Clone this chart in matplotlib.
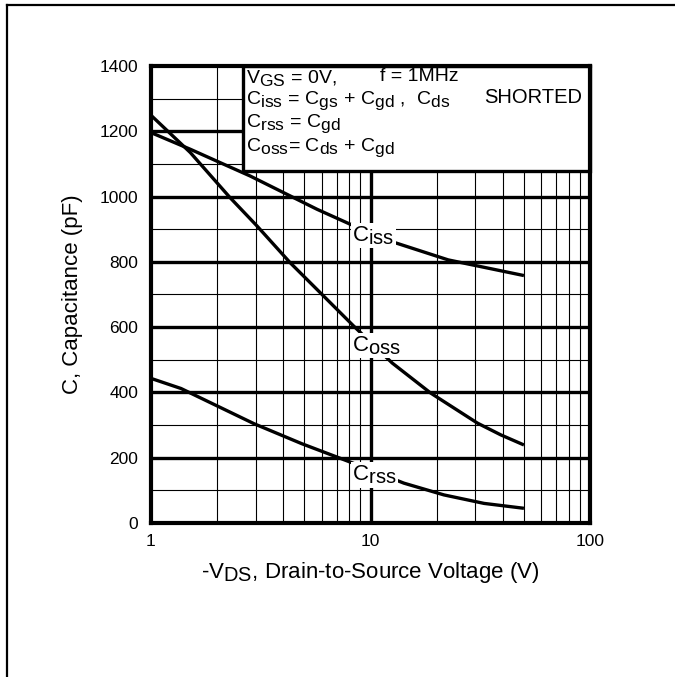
"""
Capacitance vs drain-to-source voltage (datasheet style chart).
"""

import matplotlib
matplotlib.use("Agg")
import matplotlib._mathtext as mathtext_internals
import matplotlib.pyplot as plt
from matplotlib.patches import Rectangle
from matplotlib.lines import Line2D


# ------------------------------------------------------------
# Data
# ------------------------------------------------------------

CISS_V = [1.0, 1.51, 2.05, 2.83, 4.02, 5.71, 8.1, 12.9, 22.6, 50.0]
CISS_C = [1196, 1145, 1105, 1063, 1012, 961, 915, 859, 806, 758]

COSS_V = [1.0, 1.51, 2.29, 3.04, 4.31, 6.12, 8.39, 12.56, 18.8, 30.7, 39.2, 50.0]
COSS_C = [1249, 1135, 997, 910, 797, 695, 603, 490, 398, 306, 270, 239]

CRSS_V = [1.0, 1.37, 2.95, 4.86, 8.2, 14.2, 21.6, 32.9, 50.0]
CRSS_C = [443, 412, 304, 243, 185, 122, 86, 60, 45]

Y_TICKS = [0, 200, 400, 600, 800, 1000, 1200, 1400]
X_TICKS = [1, 10, 100]
X_TICK_LABELS = ["1", "10", "100"]

CURVE_LABELS = [
    (10.3, 880, r"C$_{\rm iss}$"),
    (10.6, 543, r"C$_{\rm oss}$"),
    (10.4, 147, r"C$_{\rm rss}$"),
]


# ------------------------------------------------------------
# Style
# ------------------------------------------------------------

plt.rcParams["font.family"] = ["Liberation Sans", "DejaVu Sans"]
plt.rcParams["mathtext.fontset"] = "custom"
plt.rcParams["mathtext.rm"] = "Liberation Sans"
plt.rcParams["mathtext.it"] = "Liberation Sans"
plt.rcParams["mathtext.bf"] = "Liberation Sans"
plt.rcParams["mathtext.default"] = "regular"

# the datasheet uses subscripts almost as big as the main text
mathtext_internals.SHRINK_FACTOR = 0.9

THICK = 2.4
THIN = 0.8


def main():
    fig = plt.figure(figsize=(6.75, 6.77), dpi=100)
    ax = fig.add_axes([0.2237, 0.2275, 0.6504, 0.675])

    # outer frame: top and left lines only
    fig.add_artist(Line2D([0.011, 1.0], [0.992, 0.992], transform=fig.transFigure,
                          color="black", lw=1.6))
    fig.add_artist(Line2D([0.011, 0.011], [0.0, 0.992], transform=fig.transFigure,
                          color="black", lw=1.6))

    ax.set_xscale("log")
    ax.set_xlim(1, 100)
    ax.set_ylim(0, 1400)

    # grid
    for c in range(100, 1400, 100):
        major = c % 200 == 0
        ax.axhline(c, color="black", lw=THICK if major else THIN, zorder=1)
    for decade in [1, 10]:
        for m in range(2, 10):
            ax.axvline(decade * m, color="black", lw=THIN, zorder=1)
    ax.axvline(10, color="black", lw=THICK, zorder=1)

    # curves
    for v, c in [(CISS_V, CISS_C), (COSS_V, COSS_C), (CRSS_V, CRSS_C)]:
        ax.plot(v, c, color="black", lw=THICK, zorder=3, solid_capstyle="butt",
                solid_joinstyle="round")

    for x, y, label in CURVE_LABELS:
        ax.text(x, y, label, fontsize=16, ha="center", va="center", zorder=4,
                bbox=dict(facecolor="white", edgecolor="none", pad=1.0))

    # conditions box
    ax.add_patch(Rectangle((0.21, 0.77), 0.79, 0.23, transform=ax.transAxes,
                           facecolor="white", edgecolor="black", lw=THICK,
                           zorder=5, clip_on=False))
    fs = 14
    x0 = 2.72
    ax.text(x0, 1364, r"V$_{\rm GS}$ = 0V,", fontsize=fs, va="center", zorder=6)
    ax.text(11.1, 1367, "f = 1MHz", fontsize=fs, va="center", zorder=6)
    ax.text(x0, 1294,
            r"C$_{\rm iss}$ = C$_{\rm gs}$ + C$_{\rm gd}$ ,  C$_{\rm ds}$",
            fontsize=fs, va="center", zorder=6)
    ax.text(33.0, 1302, "SHORTED", fontsize=14.5, va="center", zorder=6)
    ax.text(x0, 1222, r"C$_{\rm rss}$ = C$_{\rm gd}$", fontsize=fs, va="center", zorder=6)
    ax.text(x0, 1150, r"C$_{\rm oss}$= C$_{\rm ds}$ + C$_{\rm gd}$",
            fontsize=fs, va="center", zorder=6)

    # axes
    for spine in ax.spines.values():
        spine.set_linewidth(3.0)
        spine.set_zorder(7)
    ax.set_xticks(X_TICKS)
    ax.set_xticklabels(X_TICK_LABELS)
    ax.set_xticks([], minor=True)
    ax.set_yticks(Y_TICKS)
    ax.tick_params(length=0, labelsize=12.5, pad=8)
    ax.tick_params(axis="y", pad=9)

    ax.set_xlabel(r"-V$_{\rm DS}$, Drain-to-Source Voltage (V)", fontsize=16, labelpad=8)
    ax.set_ylabel("C, Capacitance (pF)", fontsize=16, labelpad=12)

    fig.savefig("out.png", dpi=100, facecolor="white")
    plt.close(fig)


if __name__ == "__main__":
    main()
